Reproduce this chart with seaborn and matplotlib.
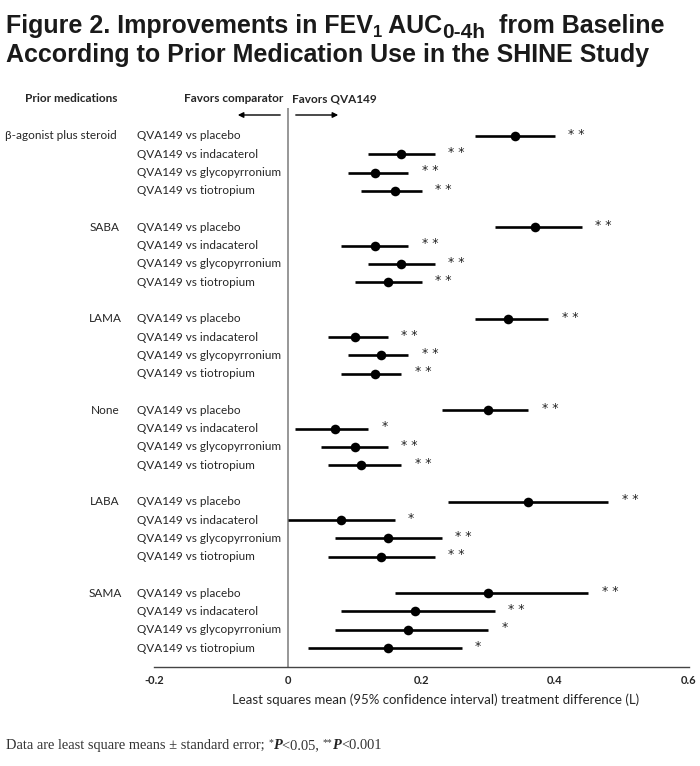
import numpy as np
import pandas as pd
import matplotlib
matplotlib.use("Agg")
import matplotlib.pyplot as plt
import matplotlib.transforms as mtrans
import seaborn as sns

groups = ["β-agonist plus steroid", "SABA", "LAMA", "None", "LABA", "SAMA"]
comparisons = ["QVA149 vs placebo", "QVA149 vs indacaterol",
               "QVA149 vs glycopyrronium", "QVA149 vs tiotropium"]

# least squares mean and 95% CI, per group x comparison
means = [0.34, 0.17, 0.13, 0.16,
         0.37, 0.13, 0.17, 0.15,
         0.33, 0.10, 0.14, 0.13,
         0.30, 0.07, 0.10, 0.11,
         0.36, 0.08, 0.15, 0.14,
         0.30, 0.19, 0.18, 0.15]
lower = [0.28, 0.12, 0.09, 0.11,
         0.31, 0.08, 0.12, 0.10,
         0.28, 0.06, 0.09, 0.08,
         0.23, 0.01, 0.05, 0.06,
         0.24, 0.00, 0.07, 0.06,
         0.16, 0.08, 0.07, 0.03]
upper = [0.40, 0.22, 0.18, 0.20,
         0.44, 0.18, 0.22, 0.20,
         0.39, 0.15, 0.18, 0.17,
         0.36, 0.12, 0.15, 0.17,
         0.48, 0.16, 0.23, 0.22,
         0.45, 0.31, 0.30, 0.26]
signif = ["**", "**", "**", "**",
          "**", "**", "**", "**",
          "**", "**", "**", "**",
          "**", "*", "**", "**",
          "**", "*", "**", "**",
          "**", "**", "*", "*"]
xticks = [-0.2, 0, 0.2, 0.4, 0.6]
xtick_labels = ["-0.2", "0", "0.2", "0.4", "0.6"]

rows = []
for gi, g in enumerate(groups):
    for ci, c in enumerate(comparisons):
        k = gi * 4 + ci
        rows.append({"group": g, "comparison": c, "row": gi * 5 + ci,
                     "mean": means[k], "lo": lower[k], "hi": upper[k], "sig": signif[k]})
df = pd.DataFrame(rows)

sns.set_style("white")
plt.rcParams["font.family"] = ["Lato", "DejaVu Sans"]

fig = plt.figure(figsize=(7, 7.66), dpi=100)
ax = fig.add_axes([0.2207, 0.1292, 0.7629, 0.7298])

ax.axvline(0, color="#7a7a7a", lw=1.1, zorder=1)
ax.hlines(df["row"], df["lo"], df["hi"], color="black", lw=1.9, zorder=2)
sns.scatterplot(data=df, x="mean", y="row", color="black", s=48,
                edgecolor="black", linewidth=0, zorder=3, ax=ax, legend=False)
for _, r in df.iterrows():
    ax.text(r["hi"] + 0.02, r["row"] - 0.1, " ".join(r["sig"]),
            fontsize=9, color="#222222", ha="left", va="center", family="DejaVu Sans")

ax.set_xlim(-0.2, 0.6)
ax.set_ylim(29.04, -1.53)
ax.set_yticks([])
ax.set_xticks(xticks)
ax.set_xticklabels(xtick_labels, fontsize=8, fontweight="bold")
ax.tick_params(axis="x", direction="in", length=5, width=1, color="#444444", pad=6)
for s in ["left", "top", "right"]:
    ax.spines[s].set_visible(False)
ax.spines["bottom"].set_color("#444444")
ax.spines["bottom"].set_linewidth(1)
ax.set_xlabel("")
ax.set_ylabel("")

# left-hand labels
trans = mtrans.blended_transform_factory(fig.transFigure, ax.transData)
for gi, g in enumerate(groups):
    y0 = gi * 5
    if gi == 0:
        ax.text(5 / 700, y0, g, transform=trans, fontsize=8.5, ha="left", va="center", clip_on=False)
    else:
        ax.text(105 / 700, y0, g, transform=trans, fontsize=8.5, ha="center", va="center", clip_on=False)
for _, r in df.iterrows():
    ax.text(137 / 700, r["row"], r["comparison"], transform=trans, fontsize=8.5,
            ha="left", va="center", clip_on=False)

# header
fig.text(25 / 700, 1 - 99 / 766, "Prior medications", fontsize=8.5, fontweight="bold", va="center")
fig.text(283 / 700, 1 - 99 / 766, "Favors comparator", fontsize=8.5, fontweight="bold", va="center", ha="right")
fig.text(292 / 700, 1 - 99 / 766, "Favors QVA149", fontsize=8.5, fontweight="bold", va="center", ha="left")
fig.patches.append(matplotlib.patches.FancyArrowPatch((283 / 700, 1 - 115 / 766), (235 / 700, 1 - 115 / 766),
                   transform=fig.transFigure, arrowstyle="-|>", mutation_scale=8, lw=1, color="black"))
fig.patches.append(matplotlib.patches.FancyArrowPatch((293 / 700, 1 - 115 / 766), (341 / 700, 1 - 115 / 766),
                   transform=fig.transFigure, arrowstyle="-|>", mutation_scale=8, lw=1, color="black"))

fig.text(436 / 700, 1 - 700 / 766, "Least squares mean (95% confidence interval) treatment difference (L)",
         fontsize=9.5, ha="center", va="center")

renderer = fig.canvas.get_renderer()


def write_run(x, y, chunks):
    for s, kw, dy in chunks:
        t = fig.text(x, y + dy, s, va="baseline", **kw)
        bb = t.get_window_extent(renderer)
        x += bb.width / fig.bbox.width


tkw = dict(fontsize=18, fontweight="bold", color="#1a1a1a", family="Liberation Sans")
skw = dict(fontsize=12, fontweight="bold", color="#1a1a1a", family="Liberation Sans")
write_run(6 / 700, 1 - 33 / 766, [("Figure 2. Improvements in FEV", tkw, 0),
                                  ("1", skw, -4 / 766),
                                  (" AUC", tkw, 0),
                                  ("0-4h", tkw | {"fontsize": 15}, -5 / 766),
                                  ("  from Baseline", tkw, 0)])
fig.text(6 / 700, 1 - 62 / 766, "According to Prior Medication Use in the SHINE Study", va="baseline", **tkw)

fkw = dict(fontsize=10.4, color="#333333", family="Liberation Serif")
pkw = dict(fontsize=10.4, color="#222222", family="Liberation Serif", fontweight="bold", fontstyle="italic")
starkw = dict(fontsize=7, color="#333333", family="Liberation Serif")
write_run(6 / 700, 1 - 749 / 766, [("Data are least square means ± standard error; ", fkw, 0),
                                   ("*", starkw, 4 / 766),
                                   ("P", pkw, 0),
                                   ("<0.05, ", fkw, 0),
                                   ("**", starkw, 4 / 766),
                                   ("P", pkw, 0),
                                   ("<0.001", fkw, 0)])

fig.savefig("out.png", dpi=100)
